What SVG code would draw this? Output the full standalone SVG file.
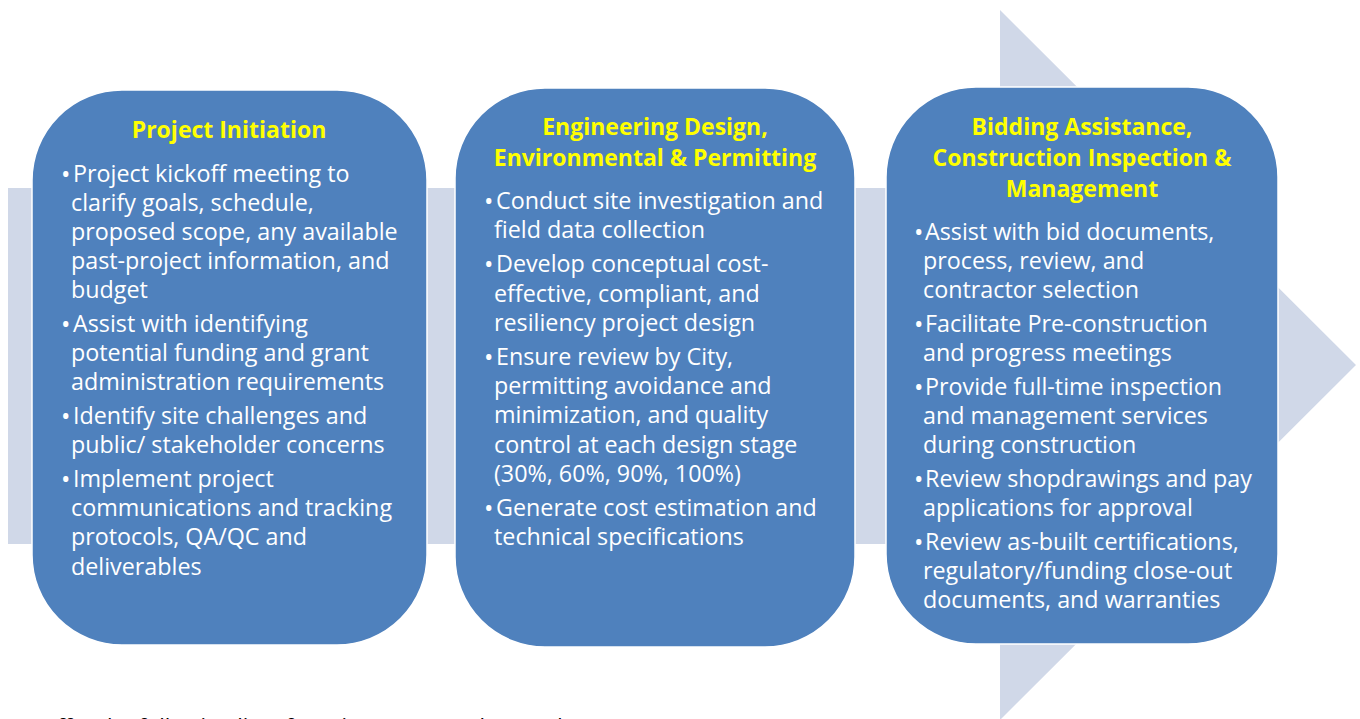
<svg xmlns="http://www.w3.org/2000/svg" width="1360" height="719" viewBox="0 0 1360 719">
<style>
.bg{fill:#D0D8E8}
.box{fill:#4F81BD;stroke:#FFFFFF;stroke-width:1.5}
.t{font-family:"Open Sans","Liberation Sans",sans-serif;font-weight:bold;font-size:23px;fill:#FFFF00;text-anchor:middle}
.b{font-family:"Open Sans","Liberation Sans",sans-serif;font-size:23.3px;fill:#FFFFFF}
.d{font-family:"Open Sans","Liberation Sans",sans-serif;font-size:25px;fill:#FFFFFF}
.f{font-family:"Open Sans","Liberation Sans",sans-serif;font-size:22px;fill:#000000}
</style>
<rect width="1360" height="719" fill="#FFFFFF"/>
<g id="flow-arrow">
<path class="bg" d="M8,188 H1000 V10 L1356,365 L1000,720 V544 H8 Z"/>
</g>
<g id="connectors"></g>
<g id="node-initiation">
<rect class="box" x="32" y="90" width="395" height="555" rx="90" ry="90"/>
<text class="t" x="229" y="138">Project Initiation</text>
<g class="d">
<text x="61" y="183">•</text>
<text x="61" y="333">•</text>
<text x="61" y="425">•</text>
<text x="61" y="488">•</text>
</g>
<text class="b">
<tspan x="73" y="182">Project kickoff meeting to</tspan>
<tspan x="71" y="211">clarify goals, schedule,</tspan>
<tspan x="71" y="240">proposed scope, any available</tspan>
<tspan x="71" y="269">past-project information, and</tspan>
<tspan x="71" y="298">budget</tspan>
<tspan x="73" y="332">Assist with identifying</tspan>
<tspan x="71" y="361">potential funding and grant</tspan>
<tspan x="71" y="390">administration requirements</tspan>
<tspan x="73" y="424">Identify site challenges and</tspan>
<tspan x="71" y="453">public/ stakeholder concerns</tspan>
<tspan x="73" y="487">Implement project</tspan>
<tspan x="71" y="516">communications and tracking</tspan>
<tspan x="71" y="545">protocols, QA/QC and</tspan>
<tspan x="71" y="575">deliverables</tspan>
</text>
</g>
<g id="node-design">
<rect class="box" x="455" y="88" width="400" height="559" rx="90" ry="90"/>
<text class="t" x="655" y="135">Engineering Design,</text>
<text class="t" x="655" y="166">Environmental  &amp; Permitting</text>
<g class="d">
<text x="484" y="210">•</text>
<text x="484" y="273">•</text>
<text x="484" y="366">•</text>
<text x="484" y="517">•</text>
</g>
<text class="b">
<tspan x="496" y="209">Conduct site investigation and</tspan>
<tspan x="494" y="238">field data collection</tspan>
<tspan x="496" y="272">Develop conceptual cost-</tspan>
<tspan x="494" y="302">effective, compliant, and</tspan>
<tspan x="494" y="331">resiliency project design</tspan>
<tspan x="496" y="365">Ensure review by City,</tspan>
<tspan x="494" y="394">permitting avoidance and</tspan>
<tspan x="494" y="423">minimization, and quality</tspan>
<tspan x="494" y="453">control at each design stage</tspan>
<tspan x="494" y="482">(30%, 60%, 90%, 100%)</tspan>
<tspan x="496" y="516">Generate cost estimation and</tspan>
<tspan x="494" y="545">technical specifications</tspan>
</text>
</g>
<g id="node-construction">
<rect class="box" x="886" y="87" width="392" height="557" rx="90" ry="90"/>
<text class="t" x="1082" y="135">Bidding Assistance,</text>
<text class="t" x="1082" y="166">Construction Inspection &amp;</text>
<text class="t" x="1082" y="197">Management</text>
<g class="d">
<text x="914" y="241">•</text>
<text x="914" y="333">•</text>
<text x="914" y="396">•</text>
<text x="914" y="488">•</text>
<text x="914" y="551">•</text>
</g>
<text class="b">
<tspan x="925" y="240">Assist with bid documents,</tspan>
<tspan x="923" y="269">process, review, and</tspan>
<tspan x="923" y="298">contractor selection</tspan>
<tspan x="925" y="332">Facilitate Pre-construction</tspan>
<tspan x="923" y="361">and progress meetings</tspan>
<tspan x="925" y="395">Provide full-time inspection</tspan>
<tspan x="923" y="424">and management services</tspan>
<tspan x="923" y="453">during construction</tspan>
<tspan x="925" y="487">Review shopdrawings and pay</tspan>
<tspan x="923" y="516">applications for approval</tspan>
<tspan x="925" y="550">Review as-built certifications,</tspan>
<tspan x="923" y="579">regulatory/funding close-out</tspan>
<tspan x="923" y="608">documents, and warranties</tspan>
</text>
</g>
<text class="f" x="44" y="734">offer the following list of services to meet the needs</text>
</svg>
